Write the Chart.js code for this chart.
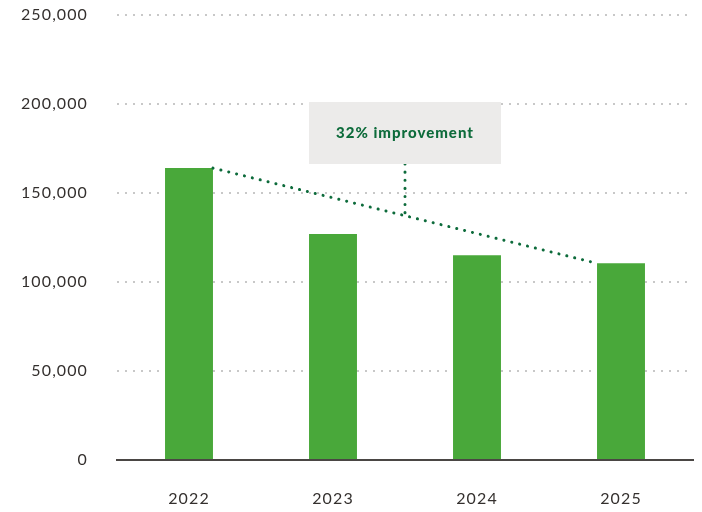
<!DOCTYPE html>
<html>
<head>
<meta charset="utf-8">
<script src="https://cdn.jsdelivr.net/npm/chart.js@4"></script>
<style>
  html, body { margin: 0; padding: 0; background: #fff; }
  #wrap { width: 702px; height: 512px; }
</style>
</head>
<body>
<div id="wrap"><canvas id="chart" width="702" height="512"></canvas></div>
<script>
const years = ['2022', '2023', '2024', '2025'];
const emissions = [164000, 127000, 115000, 110500];
const yTicks = [0, 50000, 100000, 150000, 200000, 250000];
const noteText = '32% improvement';

const TEXT = '#34302e';
const GREEN = '#49a83a';
const DARK_GREEN = '#0d6b3b';

// trend line from first bar to last bar + the callout box
const calloutPlugin = {
  id: 'callout',
  beforeDraw(chart) {
    chart.ctx.letterSpacing = '1.1px';
  },
  afterDatasetsDraw(chart) {
    const ctx = chart.ctx;
    const bars = chart.getDatasetMeta(0).data;
    const y = chart.scales.y;
    const first = bars[0], last = bars[bars.length - 1];
    const x1 = first.x + first.width / 2, y1 = first.y;
    const x2 = last.x - last.width / 2, y2 = last.y;

    ctx.save();
    ctx.letterSpacing = '0px';
    ctx.strokeStyle = DARK_GREEN;
    ctx.lineWidth = 3;
    ctx.lineCap = 'round';
    ctx.setLineDash([0.1, 8]);
    ctx.beginPath();
    ctx.moveTo(x1, y1);
    ctx.lineTo(x2, y2);
    ctx.stroke();

    // box spans from 2023 bar left edge to 2024 bar right edge
    const bx1 = bars[1].x - bars[1].width / 2;
    const bx2 = bars[2].x + bars[2].width / 2;
    const by1 = y.getPixelForValue(200000) - 2;
    const bh = 62;
    const cx = (bx1 + bx2) / 2;
    const lineY = y1 + (cx - x1) / (x2 - x1) * (y2 - y1);

    ctx.beginPath();
    ctx.moveTo(cx, by1 + bh);
    ctx.lineTo(cx, lineY - 2);
    ctx.stroke();

    ctx.setLineDash([]);
    ctx.fillStyle = '#ecebea';
    ctx.fillRect(bx1, by1, bx2 - bx1, bh);

    ctx.fillStyle = DARK_GREEN;
    ctx.font = '900 15px Lato';
    ctx.letterSpacing = '1px';
    ctx.textAlign = 'center';
    ctx.textBaseline = 'middle';
    ctx.fillText(noteText, cx, by1 + bh / 2);
    ctx.restore();
  },
  afterDraw(chart) {
    chart.ctx.letterSpacing = '0px';
  }
};

new Chart(document.getElementById('chart'), {
  type: 'bar',
  data: {
    labels: years,
    datasets: [{
      data: emissions,
      backgroundColor: GREEN,
      categoryPercentage: 1,
      barPercentage: 0.333
    }]
  },
  options: {
    responsive: false,
    animation: false,
    layout: { padding: { top: 15, right: 9, left: 0, bottom: 0 } },
    plugins: { legend: { display: false }, tooltip: { enabled: false } },
    scales: {
      x: {
        grid: { display: false },
        border: { display: true, color: '#4a4644', width: 2 },
        ticks: { color: TEXT, font: { family: 'Lato', size: 16 }, padding: 21 },
        afterFit(scale) { scale.height = 52; }
      },
      y: {
        min: 0,
        max: 250000,
        afterBuildTicks(scale) { scale.ticks = yTicks.map(v => ({ value: v })); },
        grid: {
          drawTicks: true,
          tickLength: 29,
          tickColor: 'rgba(0,0,0,0)',
          color: ctx => ctx.tick && ctx.tick.value === 0 ? 'rgba(0,0,0,0)' : '#c8c8c8',
          lineWidth: 2
        },
        border: { display: false, dash: [2, 6] },
        ticks: {
          color: TEXT,
          font: { family: 'Lato', size: 16 },
          padding: 0,
          callback: v => v.toLocaleString('en-US')
        },
        afterFit(scale) { scale.width = 117; }
      }
    }
  },
  plugins: [calloutPlugin]
});
</script>
</body>
</html>
